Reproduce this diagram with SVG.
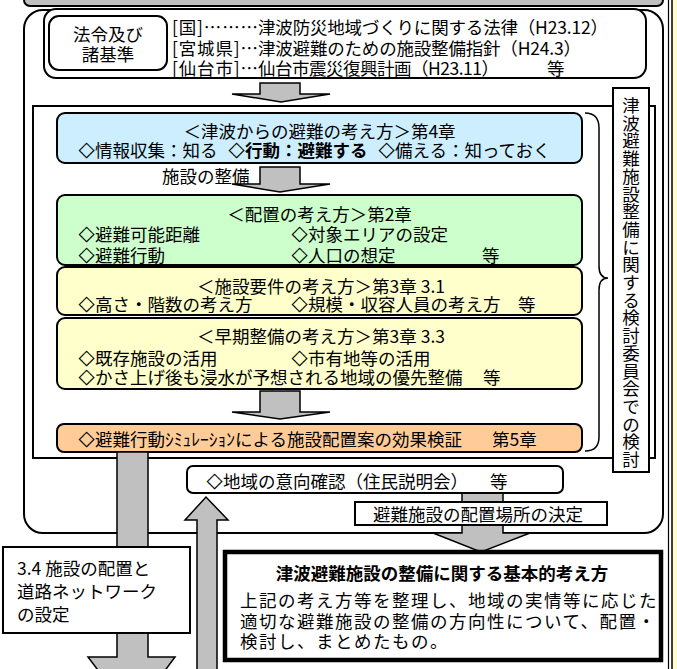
<svg xmlns="http://www.w3.org/2000/svg" width="677" height="669" viewBox="0 0 677 669">
<style>
.t{font-family:"Noto Sans CJK JP","Noto Sans CJK SC",sans-serif;font-size:17.5px;fill:#000;dominant-baseline:central}
.d{font-family:"DejaVu Sans",sans-serif;font-size:21px}
.b{font-weight:bold}
.c{text-anchor:middle}
.box{stroke:#000;stroke-width:2}
.ar{fill:#c0c0c0;stroke:#000;stroke-width:1.5;stroke-linejoin:miter}
</style>
<rect x="0" y="0" width="677" height="669" fill="#fff"/>
<g id="page-edge">
<line x1="668.5" y1="0" x2="668.5" y2="669" stroke="#000" stroke-width="1.2"/>
<rect x="672" y="-2" width="8" height="673" fill="#ffffcc" stroke="#000" stroke-width="1.5"/>
</g>
<g id="header-band"><rect x="24" y="-20" width="639" height="26" rx="6" fill="#c0c0c0" class="box"/></g>
<g id="outer-frame"><rect x="24" y="10" width="639" height="523" rx="19" fill="#fff" class="box"/></g>
<g id="laws">
<rect x="44" y="9" width="602" height="69" rx="12" fill="#fff" class="box"/>
<rect x="49" y="16" width="118" height="54" rx="10" fill="#fff" class="box"/>
<text class="t c" x="108" y="33" font-size="17">法令及び</text>
<text class="t c" x="108" y="53" font-size="17">諸基準</text>
<text class="t" x="172" y="26" textLength="86" lengthAdjust="spacing">[国]………</text>
<text class="t" x="258" y="26" textLength="350" lengthAdjust="spacing">津波防災地域づくりに関する法律（H23.12）</text>
<text class="t" x="172" y="47" textLength="86" lengthAdjust="spacing">[宮城県]…</text>
<text class="t" x="258" y="47" textLength="323" lengthAdjust="spacing">津波避難のための施設整備指針（H24.3）</text>
<text class="t" x="172" y="67" textLength="86" lengthAdjust="spacing">[仙台市]…</text>
<text class="t" x="258" y="67" textLength="241" lengthAdjust="spacing">仙台市震災復興計画（H23.11）</text>
<text class="t" x="547" y="67">等</text>
</g>
<g id="committee-frame"><rect x="33" y="106" width="622" height="352" fill="#fff" class="box"/></g>
<g id="evacuation-concept">
<rect x="57" y="113" width="525" height="50" rx="8" fill="#cceeff" class="box"/>
<text class="t c" x="319.5" y="130">＜津波からの避難の考え方＞第4章</text>
<text class="t" x="78.5" y="149"><tspan class="d">◇</tspan><tspan x="95">情報収集：知る</tspan></text>
<text class="t b" x="228.5" y="149"><tspan class="d b">◇</tspan><tspan x="245">行動：避難する</tspan></text>
<text class="t" x="378.5" y="149"><tspan class="d">◇</tspan><tspan x="395">備える：知っておく</tspan></text>
</g>
<g id="label-facility"><text class="t" x="162" y="175">施設の整備</text></g>
<g id="placement">
<rect x="57" y="195" width="525" height="70" rx="8" fill="#ccffcc" class="box"/>
<text class="t c" x="319.5" y="213">＜配置の考え方＞第2章</text>
<text class="t" x="78.5" y="233"><tspan class="d">◇</tspan><tspan x="95">避難可能距離</tspan></text>
<text class="t" x="291.5" y="233"><tspan class="d">◇</tspan><tspan x="308">対象エリアの設定</tspan></text>
<text class="t" x="78.5" y="254"><tspan class="d">◇</tspan><tspan x="95">避難行動</tspan></text>
<text class="t" x="291.5" y="254"><tspan class="d">◇</tspan><tspan x="308">人口の想定</tspan></text>
<text class="t" x="482" y="254">等</text>
</g>
<g id="requirements">
<rect x="57" y="267" width="525" height="48" rx="8" fill="#ffffcc" class="box"/>
<text class="t c" x="321" y="285">＜施設要件の考え方＞第3章 3.1</text>
<text class="t" x="78.5" y="303"><tspan class="d">◇</tspan><tspan x="95">高さ・階数の考え方</tspan></text>
<text class="t" x="291.5" y="303"><tspan class="d">◇</tspan><tspan x="308">規模・収容人員の考え方</tspan></text>
<text class="t" x="518" y="303">等</text>
</g>
<g id="early-development">
<rect x="57" y="318" width="525" height="71" rx="8" fill="#ffffcc" class="box"/>
<text class="t c" x="321" y="335">＜早期整備の考え方＞第3章 3.3</text>
<text class="t" x="78.5" y="357"><tspan class="d">◇</tspan><tspan x="95">既存施設の活用</tspan></text>
<text class="t" x="291.5" y="357"><tspan class="d">◇</tspan><tspan x="308">市有地等の活用</tspan></text>
<text class="t" x="78.5" y="376"><tspan class="d">◇</tspan><tspan x="95">かさ上げ後も浸水が予想される地域の優先整備</tspan></text>
<text class="t" x="483" y="376">等</text>
</g>
<g id="simulation">
<rect x="57" y="424" width="525" height="28" rx="7" fill="#ffcc99" class="box"/>
<text class="t" x="78.5" y="438"><tspan class="d">◇</tspan><tspan x="95">避難行動ｼﾐｭﾚｰｼｮﾝによる施設配置案の効果検証</tspan></text>
<text class="t" x="492" y="438">第5章</text>
</g>
<g id="connectors">
<path class="ar" d="M260,83 H300 V94 H330 L281,102 L232,94 H260 Z"/>
<path class="ar" d="M260,167 H300 V184 H330 L280,192 L232,184 H260 Z"/>
<path class="ar" d="M260,391 H300 V412 H330 L280,419 L232,412 H260 Z"/>
<path d="M585,113 Q599,113 599,128 V266 Q599,278 608,278 Q599,278 599,290 V437 Q599,451 585,451" fill="none" stroke="#000" stroke-width="1.5"/>
<path class="ar" d="M117,452 H148 V657 H175 L132,715 L88,657 H117 Z"/>
<path class="ar" d="M197,680 V520 H185 L206,497 L228,520 H217 V680 Z"/>
<path class="ar" d="M462,493 V533 H433 L481,552 L530,533 H503 V493 Z"/>
</g>
<g id="committee">
<rect x="613" y="88" width="36" height="384" fill="#fff" class="box"/>
<text class="t c" font-size="17" x="631 631 631 631 631 631 631 631 631 631 631 631 631 631 631 631 631 631 631 631 631" y="104.5 122.2 139.9 157.6 175.3 193 210.7 228.4 246.1 263.8 281.5 299.2 316.9 334.6 352.3 370 387.7 405.4 423.1 440.8 458.5">津波避難施設整備に関する検討委員会での検討</text>
</g>
<g id="road-network">
<rect x="3" y="547" width="187" height="86" fill="#fff" class="box"/>
<text class="t" x="17" y="567" font-size="19">3.4 施設の配置と</text>
<text class="t" x="17" y="590" font-size="19">道路ネットワーク</text>
<text class="t" x="17" y="613" font-size="19">の設定</text>
</g>
<g id="local-consent">
<rect x="187" y="466" width="376" height="27" rx="6" fill="#fff" class="box"/>
<text class="t" x="206.5" y="480"><tspan class="d">◇</tspan><tspan x="223">地域の意向確認（住民説明会）</tspan></text>
<text class="t" x="490" y="480">等</text>
</g>
<g id="site-decision">
<rect x="355" y="502" width="252" height="23" fill="#fff" class="box"/>
<text class="t c" x="478" y="513">避難施設の配置場所の決定</text>
</g>
<g id="basic-policy">
<rect x="225" y="552" width="436" height="108" fill="#fff" stroke="#000" stroke-width="4.5"/>
<text class="t b c" x="442" y="572">津波避難施設の整備に関する基本的考え方</text>
<text class="t" x="240" y="599" letter-spacing="1.5">上記の考え方等を整理し、地域の実情等に応じた</text>
<text class="t" x="240" y="620" letter-spacing="1.5">適切な避難施設の整備の方向性について、配置・</text>
<text class="t" x="240" y="640" letter-spacing="1.5">検討し、まとめたもの。</text>
</g>
</svg>
